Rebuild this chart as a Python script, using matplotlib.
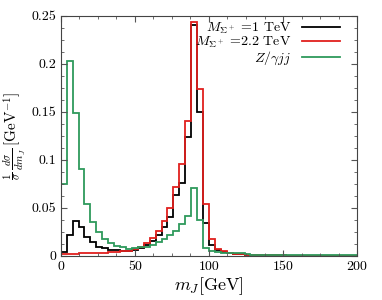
import numpy as np
import matplotlib
matplotlib.use("Agg")
import matplotlib.pyplot as plt
from matplotlib.ticker import MultipleLocator

plt.rcParams["font.family"] = "serif"
plt.rcParams["font.serif"] = ["cmr10", "DejaVu Serif"]
plt.rcParams["mathtext.fontset"] = "cm"
plt.rcParams["axes.unicode_minus"] = False

# 4 GeV bins from 0 to 200
edges = np.arange(0, 204, 4)

# M_Sigma = 1 TeV (black)
sig1 = [0.004, 0.022, 0.036, 0.030, 0.0195, 0.014, 0.0095, 0.008, 0.0065, 0.006,
        0.0055, 0.0055, 0.0065, 0.0087, 0.011, 0.016, 0.022, 0.030, 0.041, 0.063,
        0.0757, 0.124, 0.2406, 0.150, 0.034, 0.011, 0.006, 0.004, 0.003, 0.002,
        0.0015, 0.0012, 0.001, 0.0008, 0.0007, 0.0006, 0.0005, 0.0005, 0.0004, 0.0004,
        0.0003, 0.0003, 0.0003, 0.0002, 0.0002, 0.0002, 0.0002, 0.0001, 0.0001, 0.0001]
# M_Sigma = 2.2 TeV (red)
sig2 = [0.002, 0.0022, 0.0024, 0.0026, 0.0028, 0.003, 0.0032, 0.0035, 0.0038, 0.0042,
        0.0048, 0.0056, 0.0068, 0.0095, 0.013, 0.019, 0.026, 0.036, 0.050, 0.072,
        0.096, 0.141, 0.244, 0.174, 0.054, 0.018, 0.0075, 0.005, 0.0035, 0.002,
        0.0015, 0.0012, 0.001, 0.0008, 0.0007, 0.0006, 0.0005, 0.0005, 0.0004, 0.0004,
        0.0003, 0.0003, 0.0003, 0.0002, 0.0002, 0.0002, 0.0002, 0.0001, 0.0001, 0.0001]
# Z/gamma jj background (green)
bkg = [0.075, 0.203, 0.149, 0.0906, 0.0545, 0.0355, 0.025, 0.018, 0.0132, 0.0108,
       0.0088, 0.0077, 0.0078, 0.009, 0.0097, 0.0115, 0.0142, 0.0177, 0.022, 0.026,
       0.033, 0.042, 0.0705, 0.0372, 0.008, 0.0048, 0.004, 0.0035, 0.003, 0.003,
       0.0028, 0.0025, 0.0012, 0.0011, 0.001, 0.0009, 0.0009, 0.0008, 0.0008, 0.0007,
       0.0007, 0.0007, 0.0006, 0.0006, 0.0006, 0.0005, 0.0005, 0.0005, 0.0005, 0.0005]

labels = [r"$M_{\Sigma^+}$ =1 TeV", r"$M_{\Sigma^+}$ =2.2 TeV", r"$Z/\gamma jj$"]
colors = ["black", "#e0201e", "#2e9a5c"]

fig = plt.figure(figsize=(3.82, 3.0), dpi=100)
ax = fig.add_axes([0.159, 0.147, 0.776, 0.800])

for vals, lab, c in zip([sig1, sig2, bkg], labels, colors):
    ax.stairs(vals, edges, color=c, lw=1.3, label=lab, baseline=0)

ax.set_xlim(0, 200)
ax.set_ylim(0, 0.25)
ax.xaxis.set_major_locator(MultipleLocator(50))
ax.xaxis.set_minor_locator(MultipleLocator(12.5))
ax.yaxis.set_major_locator(MultipleLocator(0.05))
ax.yaxis.set_minor_locator(MultipleLocator(0.0125))
ax.set_xticks([0, 50, 100, 150, 200])
ax.set_xticklabels(["0", "50", "100", "150", "200"])
ax.set_yticks([0, 0.05, 0.1, 0.15, 0.2, 0.25])
ax.set_yticklabels(["0", "0.05", "0.1", "0.15", "0.2", "0.25"])
ax.tick_params(which="both", direction="in", top=True, right=True, labelsize=10, color="#555555")
ax.tick_params(which="major", length=4)
ax.tick_params(which="minor", length=2)
for s in ax.spines.values():
    s.set_color("#444444")

ax.set_xlabel(r"$m_J$[GeV]", fontsize=13, labelpad=2)
ax.set_ylabel(r"$\frac{1}{\sigma}\,\frac{d\sigma}{dm_J}\,[\mathrm{GeV}^{-1}]$", fontsize=11, labelpad=2)

ax.legend(loc="upper right", frameon=False, markerfirst=False, fontsize=10,
          handlelength=2.7, handletextpad=0.8, labelspacing=-0.05,
          borderaxespad=0.1, bbox_to_anchor=(0.965, 1.01))

fig.savefig("out.png", dpi=100)
